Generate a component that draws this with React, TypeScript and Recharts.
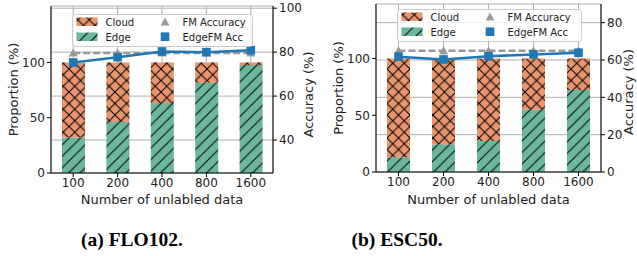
import React from "react";
import { ComposedChart, Bar, Line, XAxis, YAxis, CartesianGrid, Label } from "recharts";

const categories = ["100", "200", "400", "800", "1600"];

// (a) FLO102
const floEdge = [32, 46.2, 63.2, 81.6, 97.6];
const floCloud = [68, 53.8, 36.8, 18.4, 2.4];
const floFmAcc = [79.6, 79.6, 79.6, 79.6, 79.6];
const floEdgeFmAcc = [75.3, 77.7, 80.3, 80.0, 80.9];

// (b) ESC50
const escEdge = [12.7, 24.5, 27.2, 54.9, 72.3];
const escCloud = [87.3, 75.5, 72.8, 45.1, 27.7];
const escFmAcc = [65, 65, 65, 65, 65];
const escEdgeFmAcc = [61.8, 60.3, 62.0, 63.0, 63.9];

const FONT = "DejaVu Sans, sans-serif";
const ORANGE = "#E9956E";
const GREEN = "#6BB79B";
const BLUE = "#1F77B4";
const GRAY = "#999999";
const INK = "#222";

const buildRows = (edge: number[], cloud: number[], fm: number[], edgeFm: number[]) =>
  categories.map((n, i) => ({ n, edge: edge[i], cloud: cloud[i], fm: fm[i], edgeFm: edgeFm[i] }));

const floRows = buildRows(floEdge, floCloud, floFmAcc, floEdgeFmAcc);
const escRows = buildRows(escEdge, escCloud, escFmAcc, escEdgeFmAcc);

const H = 11.5;

const Patterns = () => (
  <svg width={0} height={0} style={{ position: "absolute" }}>
    <defs>
      <pattern id="hatchCloud" patternUnits="userSpaceOnUse" width={H} height={H}>
        <rect width={H} height={H} fill={ORANGE} />
        <path d={`M0,0 L${H},${H} M${H},0 L0,${H}`} stroke="#000" strokeWidth={1} />
      </pattern>
      <pattern id="hatchEdge" patternUnits="userSpaceOnUse" width={H} height={H}>
        <rect width={H} height={H} fill={GREEN} />
        <path
          d={`M0,${H} L${H},0 M-2,2 L2,-2 M${H - 2},${H + 2} L${H + 2},${H - 2}`}
          stroke="#000"
          strokeWidth={1}
        />
      </pattern>
    </defs>
  </svg>
);

const triangle = (props: any) => {
  const { cx, cy, index } = props;
  if (cx == null || cy == null) return <g key={`t-${index}`} />;
  return <path key={`t-${index}`} d={`M${cx},${cy - 4.5} L${cx + 4.5},${cy + 3.5} L${cx - 4.5},${cy + 3.5} Z`} fill={GRAY} />;
};

const square = (props: any) => {
  const { cx, cy, index } = props;
  if (cx == null || cy == null) return <g key={`s-${index}`} />;
  return <rect key={`s-${index}`} x={cx - 4.3} y={cy - 4.3} width={8.6} height={8.6} fill={BLUE} />;
};

const tickStyle = { fontSize: 12, fill: INK, fontFamily: FONT };
const labelStyle = { fontSize: 13, fill: INK, fontFamily: FONT };

interface PanelProps {
  x: number;
  width: number;
  rows: any[];
  propDomain: [number, number];
  accDomain: [number, number];
  accTicks: number[];
  leftW: number;
  rightW: number;
  top: number;
  xH: number;
  leftDx: number;
  rightDx: number;
  rightDy: number;
}

const Panel = (p: PanelProps) => (
  <div style={{ position: "absolute", left: p.x, top: 0 }}>
    <ComposedChart
      width={p.width}
      height={210}
      data={p.rows}
      margin={{ top: p.top, right: 0, bottom: 0, left: 0 }}
      barSize={23}
    >
      <XAxis
        dataKey="n"
        height={p.xH}
        interval={0}
        tick={tickStyle}
        tickSize={4}
        tickMargin={1}
        axisLine={{ stroke: "#000" }}
        tickLine={{ stroke: "#000" }}
      >
        <Label value="Number of unlabled data" position="center" dy={8} style={labelStyle} />
      </XAxis>
      <XAxis xAxisId="top" dataKey="n" orientation="top" height={0} tick={false} tickLine={false} axisLine={{ stroke: "#000" }} />
      <YAxis
        yAxisId="left"
        width={p.leftW}
        domain={p.propDomain}
        ticks={[0, 50, 100]}
        allowDataOverflow
        tick={tickStyle}
        tickSize={4}
        axisLine={{ stroke: "#000" }}
        tickLine={{ stroke: "#000" }}
      >
        <Label value="Proportion (%)" angle={-90} position="center" dx={p.leftDx} style={labelStyle} />
      </YAxis>
      <YAxis
        yAxisId="right"
        orientation="right"
        width={p.rightW}
        domain={p.accDomain}
        ticks={p.accTicks}
        allowDataOverflow
        tick={tickStyle}
        tickSize={4}
        axisLine={{ stroke: "#000" }}
        tickLine={{ stroke: "#000" }}
      >
        <Label value="Accuracy (%)" angle={-90} position="center" dx={p.rightDx} dy={p.rightDy} style={labelStyle} />
      </YAxis>
      <Bar yAxisId="left" dataKey="edge" stackId="s" fill="url(#hatchEdge)" isAnimationActive={false} />
      <Bar yAxisId="left" dataKey="cloud" stackId="s" fill="url(#hatchCloud)" isAnimationActive={false} />
      <CartesianGrid yAxisId="right" stroke="#b0b0b0" strokeWidth={1} />
      <Line
        yAxisId="right"
        dataKey="fm"
        type="linear"
        stroke={GRAY}
        strokeWidth={2.5}
        strokeDasharray="7 3"
        dot={triangle}
        activeDot={false}
        isAnimationActive={false}
      />
      <Line
        yAxisId="right"
        dataKey="edgeFm"
        type="linear"
        stroke={BLUE}
        strokeWidth={2.5}
        dot={square}
        activeDot={false}
        isAnimationActive={false}
      />
    </ComposedChart>
  </div>
);

const LegendBox = ({ x, y, w }: { x: number; y: number; w: number }) => {
  const txt = { fontSize: 10, fill: INK, fontFamily: FONT };
  return (
    <svg style={{ position: "absolute", left: x, top: y }} width={w + 2} height={34}>
      <rect x={0.5} y={0.5} width={w} height={32} rx={3} fill="rgba(255,255,255,0.8)" stroke="#cccccc" />
      <rect x={4.5} y={3.5} width={21} height={8.5} fill="url(#hatchCloud)" />
      <rect x={4.5} y={18.5} width={21} height={8.5} fill="url(#hatchEdge)" />
      <text x={33.5} y={8} dominantBaseline="central" style={txt}>Cloud</text>
      <text x={33.5} y={23} dominantBaseline="central" style={txt}>Edge</text>
      <path d="M93,3.5 L97.5,11.5 L88.5,11.5 Z" fill={GRAY} />
      <rect x={88.7} y={18.4} width={8.6} height={8.6} fill={BLUE} />
      <text x={110.5} y={8} dominantBaseline="central" style={txt}>FM Accuracy</text>
      <text x={110.5} y={23} dominantBaseline="central" style={txt}>EdgeFM Acc</text>
    </svg>
  );
};

const captionStyle: React.CSSProperties = {
  position: "absolute",
  top: 230,
  width: 200,
  textAlign: "center",
  fontFamily: "Liberation Serif, serif",
  fontWeight: "bold",
  fontSize: 19.5,
  lineHeight: "20px",
  color: "#000",
};

export default function App() {
  return (
    <div style={{ position: "absolute", left: 0, top: 0, width: 637, height: 256, background: "#fff", overflow: "hidden" }}>
      <Patterns />
      <Panel
        x={0}
        width={318}
        rows={floRows}
        propDomain={[0, 151]}
        accDomain={[25, 101]}
        accTicks={[40, 60, 80, 100]}
        leftW={51}
        rightW={45}
        top={6}
        xH={37}
        leftDx={-12.5}
        rightDx={12.5}
        rightDy={5}
      />
      <Panel
        x={318}
        width={319}
        rows={escRows}
        propDomain={[0, 148]}
        accDomain={[0, 90]}
        accTicks={[0, 20, 40, 60, 80]}
        leftW={58}
        rightW={36}
        top={4}
        xH={38}
        leftDx={-9}
        rightDx={9}
        rightDy={4}
      />
      <LegendBox x={72} y={14} w={180} />
      <LegendBox x={397} y={9} w={184} />
      <div style={{ ...captionStyle, left: 32 }}>(a) FLO102.</div>
      <div style={{ ...captionStyle, left: 297 }}>(b) ESC50.</div>
    </div>
  );
}
